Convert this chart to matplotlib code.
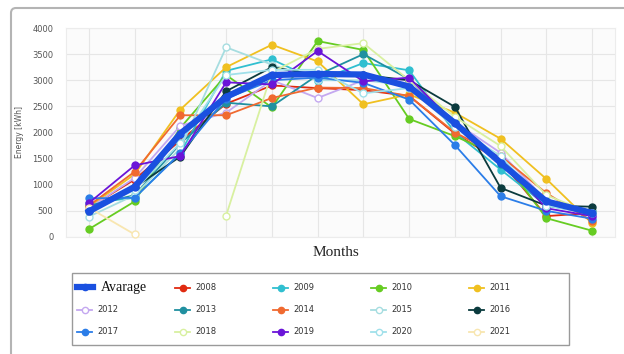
import numpy as np
import matplotlib
matplotlib.use("Agg")
import matplotlib.pyplot as plt
import matplotlib.patches as mpatches
import matplotlib.transforms as mtransforms

nan = np.nan
months = list(range(1, 13))

# monthly energy [kWh]
average = [490, 960, 1980, 2680, 3100, 3120, 3110, 2880, 2180, 1420, 680, 460]
y2008 = [560, 1100, 1850, 2550, 2900, 2850, 2810, 2700, 1980, 1450, 400, 460]
y2009 = [650, 750, 1610, 3180, 3400, 2990, 3330, 3190, 2000, 1290, 600, 450]
y2010 = [150, 680, 2090, 3100, 2480, 3750, 3580, 2260, 1930, 1540, 360, 120]
y2011 = [580, 1200, 2440, 3250, 3680, 3360, 2540, 2730, 2380, 1880, 1110, 260]
y2012 = [550, 1130, 2130, 2380, 3000, 2660, 3000, 3000, 2200, 1610, 700, 400]
y2013 = [600, 800, 1790, 2570, 2500, 3100, 3500, 3020, 2200, 1400, 600, 500]
y2014 = [600, 1250, 2330, 2330, 2660, 2860, 2850, 2700, 2000, 1550, 840, 300]
y2015 = [390, 800, 1700, 3630, 3300, 3000, 3000, 2900, 2200, 1500, 700, 450]
y2016 = [500, 950, 1540, 2790, 3250, 3100, 3100, 3000, 2490, 940, 600, 580]
y2017 = [740, 750, 1600, 2650, 3000, 3050, 2950, 2630, 1760, 780, 500, 350]
y2018 = [nan, nan, nan, 410, 3150, 3600, 3710, 3000, 2300, 1740, 800, 450]
y2019 = [650, 1370, 1550, 2960, 2920, 3560, 2980, 3050, 2170, 1500, 550, 400]
y2020 = [500, 900, 1800, 3100, 3200, 3200, 2750, 2850, 2100, 1550, 600, 450]
y2021 = [560, 50, nan, nan, nan, nan, nan, nan, nan, nan, nan, nan]

series = [
    ("2008", y2008, "#e02a10", False),
    ("2009", y2009, "#30bfd0", False),
    ("2010", y2010, "#66cc22", False),
    ("2011", y2011, "#f0c020", False),
    ("2012", y2012, "#c4a8f0", True),
    ("2013", y2013, "#2090a0", False),
    ("2014", y2014, "#f06a30", False),
    ("2015", y2015, "#a6dde0", True),
    ("2016", y2016, "#0b3b3e", False),
    ("2017", y2017, "#2b7de8", False),
    ("2018", y2018, "#d8f0a0", True),
    ("2019", y2019, "#6a14d8", False),
    ("2020", y2020, "#a0e0ea", True),
    ("2021", y2021, "#f8e6b0", True),
]

W, H = 624, 354
fig = plt.figure(figsize=(W / 100, H / 100), dpi=100)
fig.patch.set_facecolor("white")

# outer rounded frame
frame = mpatches.FancyBboxPatch((11, -20), 640, H - 8 + 20,
                                boxstyle="round,pad=0,rounding_size=5",
                                transform=mtransforms.IdentityTransform(),
                                facecolor="none", edgecolor="#b4b4b4", lw=1.5,
                                zorder=0)
fig.patches.append(frame)

ax = fig.add_axes([66 / W, 1 - 237 / H, (615 - 66) / W, (237 - 28) / H])
ax.set_facecolor("#fbfbfb")

handles = {}
for name, vals, color, hollow in series:
    face = "white" if hollow else color
    (ln,) = ax.plot(months, vals, color=color, lw=1.3, marker="o", ms=5,
                    mfc=face, mec=color, mew=1.0, label=name, clip_on=False,
                    zorder=3)
    handles[name] = ln

(avg_ln,) = ax.plot(months, average, color="#1a50e0", lw=4.5, marker="o",
                    ms=5, mfc="#1a50e0", mec="#1a50e0", label="Avarage",
                    clip_on=False, zorder=5)
handles["Avarage"] = avg_ln

ax.set_xlim(0.5, 12.5)
ax.set_ylim(0, 4000)
ax.set_xticks(months)
ax.set_yticks(np.arange(0, 4001, 500))
ax.tick_params(axis="x", length=0, labelbottom=False)
ax.tick_params(axis="y", length=0, labelsize=6, labelcolor="#555555", pad=9)
ax.grid(True, color="#e6e6e6", lw=0.8)
ax.set_axisbelow(True)
for sp in ax.spines.values():
    sp.set_color("#ececec")
    sp.set_linewidth(0.8)

ax.set_ylabel("Energy [kWh]", fontsize=5.5, color="#555555", labelpad=6)
fig.text(336 / W, 1 - 253 / H, "Months", family="Liberation Serif",
         fontsize=11, ha="center", va="center", color="#222222")

# legend box, one small legend per entry so columns sit on a fixed pitch
box = mpatches.Rectangle((72 / W, 1 - 345 / H), 497 / W, 72 / H,
                         transform=fig.transFigure, facecolor="white",
                         edgecolor="#9a9a9a", lw=1.0, zorder=1)
fig.patches.append(box)

rows = [["Avarage", "2008", "2009", "2010", "2011"],
        ["2012", "2013", "2014", "2015", "2016"],
        ["2017", "2018", "2019", "2020", "2021"]]
col_x = [77, 175, 273, 371, 469]
row_y = [288, 310, 332]
for r, row in enumerate(rows):
    for c, name in enumerate(row):
        if name == "Avarage":
            kw = dict(fontsize=10, handlelength=1.15, handletextpad=0.6)
        else:
            kw = dict(fontsize=6, handlelength=1.8, handletextpad=0.6,
                      labelcolor="#333333")
        leg = fig.legend([handles[name]], [name], loc="center left",
                         bbox_to_anchor=(col_x[c] / W, 1 - row_y[r] / H),
                         frameon=False, borderpad=0, borderaxespad=0,
                         markerscale=0.9, **kw)
        if name == "Avarage":
            leg.get_texts()[0].set_fontfamily("Liberation Serif")
            leg.get_texts()[0].set_color("#111111")

fig.savefig("out.png", dpi=100)
